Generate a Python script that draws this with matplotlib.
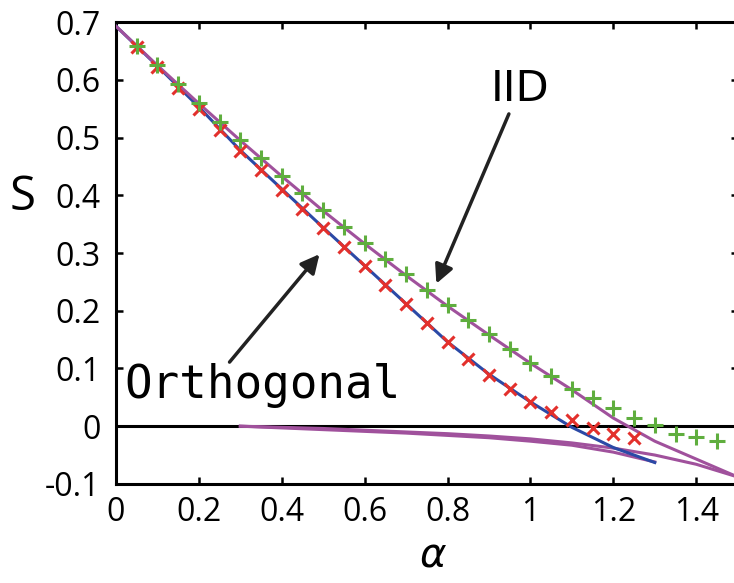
import matplotlib.pyplot as plt

# theory curves, step 0.1 in alpha
alpha_line = [0.0, 0.1, 0.2, 0.3, 0.4, 0.5, 0.6, 0.7, 0.8, 0.9, 1.0, 1.1, 1.2, 1.3, 1.4, 1.5]
s_iid = [0.693, 0.625, 0.559, 0.495, 0.433, 0.373, 0.316, 0.261, 0.208, 0.158,
         0.109, 0.063, 0.014, -0.026, -0.057, -0.088]

alpha_orth = [0.0, 0.1, 0.2, 0.3, 0.4, 0.5, 0.6, 0.7, 0.8, 0.9, 1.0, 1.1, 1.2, 1.3]
s_orth = [0.693, 0.624, 0.553, 0.478, 0.411, 0.344, 0.278, 0.212, 0.146, 0.090,
          0.042, -0.002, -0.037, -0.063]

# lower (unstable) branches
alpha_low_iid = [0.3, 0.4, 0.5, 0.6, 0.7, 0.8, 0.9, 1.0, 1.1, 1.2, 1.3, 1.4, 1.5]
s_low_iid = [0.0, -0.002, -0.004, -0.007, -0.010, -0.013, -0.017, -0.022,
             -0.029, -0.038, -0.050, -0.066, -0.088]
alpha_low_orth = [0.3, 0.4, 0.5, 0.6, 0.7, 0.8, 0.9, 1.0, 1.1, 1.2, 1.3]
s_low_orth = [0.0, -0.003, -0.006, -0.009, -0.012, -0.016, -0.020, -0.026,
              -0.033, -0.045, -0.062]

# simulation points
alpha_sim_iid = [0.05, 0.1, 0.15, 0.2, 0.25, 0.3, 0.35, 0.4, 0.45, 0.5, 0.55, 0.6,
                 0.65, 0.7, 0.75, 0.8, 0.85, 0.9, 0.95, 1.0, 1.05, 1.1, 1.15,
                 1.2, 1.25, 1.3, 1.35, 1.4, 1.45]
s_sim_iid = [0.659, 0.626, 0.592, 0.560, 0.527, 0.496, 0.465, 0.434, 0.404, 0.374,
             0.345, 0.317, 0.290, 0.263, 0.236, 0.210, 0.184, 0.159, 0.133, 0.109,
             0.087, 0.065, 0.048, 0.031, 0.015, 0.002, -0.013, -0.019, -0.026]

alpha_sim_orth = [0.05, 0.1, 0.15, 0.2, 0.25, 0.3, 0.35, 0.4, 0.45, 0.5, 0.55, 0.6,
                  0.65, 0.7, 0.75, 0.8, 0.85, 0.9, 0.95, 1.0, 1.05, 1.1, 1.15,
                  1.2, 1.25]
s_sim_orth = [0.657, 0.622, 0.586, 0.550, 0.514, 0.477, 0.443, 0.409, 0.376, 0.343,
              0.310, 0.277, 0.244, 0.211, 0.178, 0.145, 0.117, 0.089, 0.065, 0.042,
              0.025, 0.010, -0.004, -0.013, -0.021]

purple = '#a0519c'
blue = '#2b49a6'

plt.rcParams['font.family'] = ['Open Sans', 'DejaVu Sans']

fig = plt.figure(figsize=(7.34, 5.83), dpi=100)
ax = fig.add_axes([0.158, 0.170, 0.847, 0.792])

ax.axhline(0, color='black', lw=2.2, zorder=1)

ax.plot(alpha_low_iid, s_low_iid, color=purple, lw=2.2, zorder=2)
ax.plot(alpha_low_orth, s_low_orth, color=purple, lw=2.2, zorder=2)
ax.plot(alpha_orth, s_orth, color=blue, lw=2.2, zorder=3)
ax.plot(alpha_line, s_iid, color=purple, lw=2.2, zorder=3)

ax.plot(alpha_sim_orth, s_sim_orth, 'x', color='#e3302c', ms=9, mew=2.2, zorder=4)
ax.plot(alpha_sim_iid, s_sim_iid, '+', color='#5fae3e', ms=11, mew=2.2, zorder=4)

ax.set_xlim(0, 1.5)
ax.set_ylim(-0.1, 0.7)
ax.set_xticks([0, 0.2, 0.4, 0.6, 0.8, 1.0, 1.2, 1.4])
ax.set_xticklabels(['0', '0.2', '0.4', '0.6', '0.8', '1', '1.2', '1.4'])
ax.set_yticks([-0.1, 0, 0.1, 0.2, 0.3, 0.4, 0.5, 0.6, 0.7])
ax.set_yticklabels(['-0.1', '0', '0.1', '0.2', '0.3', '0.4', '0.5', '0.6', '0.7'])
ax.tick_params(direction='in', length=5, width=1.8, labelsize=23,
               top=True, right=True)
ax.tick_params(axis='x', pad=9)
ax.tick_params(axis='y', pad=11)
for sp in ax.spines.values():
    sp.set_linewidth(2.2)

ax.set_ylabel('S', rotation=0, fontsize=34, va='center', ha='center')
ax.yaxis.set_label_coords(-0.151, 0.62)
ax.set_xlabel('α', fontsize=29, style='italic', family='DejaVu Sans')
ax.xaxis.set_label_coords(0.51, -0.115)

# labels with arrows
ax.text(0.975, 0.585, 'IID', fontsize=31, family='DejaVu Sans',
        ha='center', va='center')
ax.annotate('', xy=(0.773, 0.247), xytext=(0.948, 0.541),
            arrowprops=dict(arrowstyle='-|>', color='#222222', lw=2.5,
                            mutation_scale=28, shrinkA=0, shrinkB=0))
ax.annotate('', xy=(0.491, 0.298), xytext=(0.274, 0.111),
            arrowprops=dict(arrowstyle='-|>', color='#222222', lw=2.5,
                            mutation_scale=28, shrinkA=0, shrinkB=0))
ax.text(0.02, 0.071, 'Orthogonal', fontsize=33, family='DejaVu Sans Mono',
        ha='left', va='center')

fig.savefig('out.png', dpi=100)
